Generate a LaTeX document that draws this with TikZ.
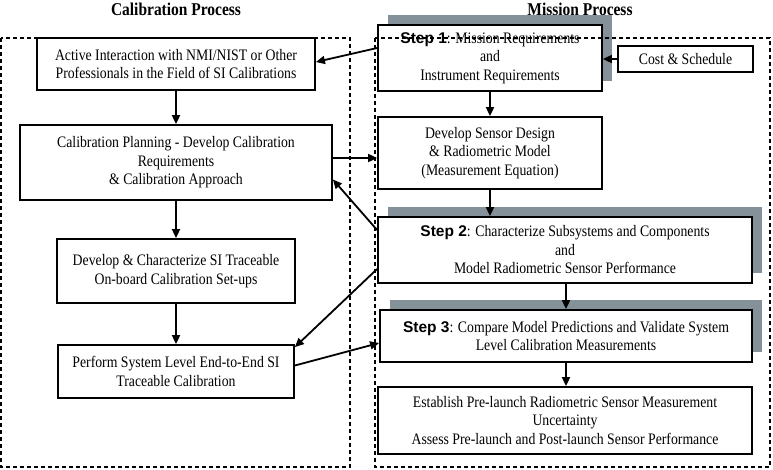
\documentclass[tikz,border=0pt]{standalone}
\usepackage{fontspec}
\setmainfont{Liberation Serif}[FakeStretch=0.86]
\newfontfamily\stepfont{Liberation Sans}
\usepackage{tikz}
\usetikzlibrary{positioning}
\usetikzlibrary{arrows.meta}
\usetikzlibrary{shadows}
\definecolor{shadowgray}{RGB}{133,145,153}

\begin{document}
\begin{tikzpicture}[x=1pt, y=-1pt, >={Triangle[length=9pt, width=8pt]},
    box/.style = {draw, rectangle, line width=1.8pt, fill=white, align=center,
      inner sep=2pt, font=\fontsize{16}{18.5}\selectfont},
    stepbox/.style = {box, drop shadow={shadow xshift=10pt, shadow yshift=10pt,
      fill=shadowgray, opacity=1}},
    title/.style = {font=\fontsize{18}{20}\selectfont\bfseries},
    arr/.style = {->, line width=1.8pt},
    frame/.style = {line width=1.4pt, dash pattern=on 4pt off 3pt}
    ]
    \useasboundingbox (0,0) rectangle (773,469);
    \node[title] (caltitle) at (176,9) {Calibration Process};
    \node[title] (mistitle) at (580,9) {Mission Process};
    % calibration side
    \node[box, minimum width=278pt, minimum height=52pt] (act) at (176,64)
      {Active Interaction with NMI/NIST or Other\\ Professionals in the Field of SI Calibrations};
    \node[box, minimum width=312pt, minimum height=75pt] (plan) at (176,162.5)
      {Calibration Planning - Develop Calibration\\ Requirements\\ \& Calibration Approach};
    \node[box, minimum width=238pt, minimum height=64pt] (setup) at (176,271)
      {Develop \& Characterize SI Traceable\\ On-board Calibration Set-ups};
    \node[box, minimum width=236pt, minimum height=53pt] (e2e) at (176,371.5)
      {Perform System Level End-to-End SI\\ Traceable Calibration};
    % mission side
    \node[stepbox, minimum width=224pt, minimum height=66pt] (step1) at (490,58)
      {{\fontsize{15.5}{18.5}\stepfont\bfseries Step 1}: Mission Requirements\\ and\\ Instrument Requirements};
    \node[box, minimum width=135pt, minimum height=26pt] (cost) at (685.5,59) {Cost \& Schedule};
    \node[box, minimum width=224pt, minimum height=72pt] (design) at (490,153)
      {Develop Sensor Design\\ \& Radiometric Model\\ (Measurement Equation)};
    \node[stepbox, minimum width=374pt, minimum height=66pt] (step2) at (565,250)
      {{\fontsize{15.5}{18.5}\stepfont\bfseries Step 2}: Characterize Subsystems and Components\\ and\\ Model Radiometric Sensor Performance};
    \node[stepbox, minimum width=372pt, minimum height=52pt] (step3) at (566,336)
      {{\fontsize{15.5}{18.5}\stepfont\bfseries Step 3}: Compare Model Predictions and Validate System\\ Level Calibration Measurements};
    \node[box, minimum width=374pt, minimum height=67pt] (estab) at (565,420.5)
      {Establish Pre-launch Radiometric Sensor Measurement\\ Uncertainty\\ Assess Pre-launch and Post-launch Sensor Performance};

    \draw[arr] (act) -- (plan);
    \draw[arr] (plan) -- (setup);
    \draw[arr] (setup) -- (e2e);
    \draw[arr] (step1) -- (design);
    \draw[arr] (design.south) -- (design.south |- step2.north);
    \draw[arr] (step2.south -| step3.north) -- (step3.north);
    \draw[arr] (step3.south) -- (step3.south |- estab.north);
    \draw[arr] (cost.west) -- (cost.west -| step1.east);
    \draw[arr] ([yshift=10pt]step1.west) -- ([yshift=2pt]act.east);
    \draw[arr] (plan.east |- 0,158) -- (design.west |- 0,158);
    \draw[arr] ([yshift=20pt]step2.west) -- ([yshift=-17pt]plan.east);
    \draw[arr] ([yshift=-19pt]step2.west) -- ([yshift=-3pt]e2e.north east);
    \draw[arr] ([yshift=6pt]e2e.east) -- ([yshift=-7pt]step3.west);

    \draw[frame] (1,38) rectangle (350,467);
    \draw[frame] (375,38) rectangle (770,467);
\end{tikzpicture}
\end{document}
